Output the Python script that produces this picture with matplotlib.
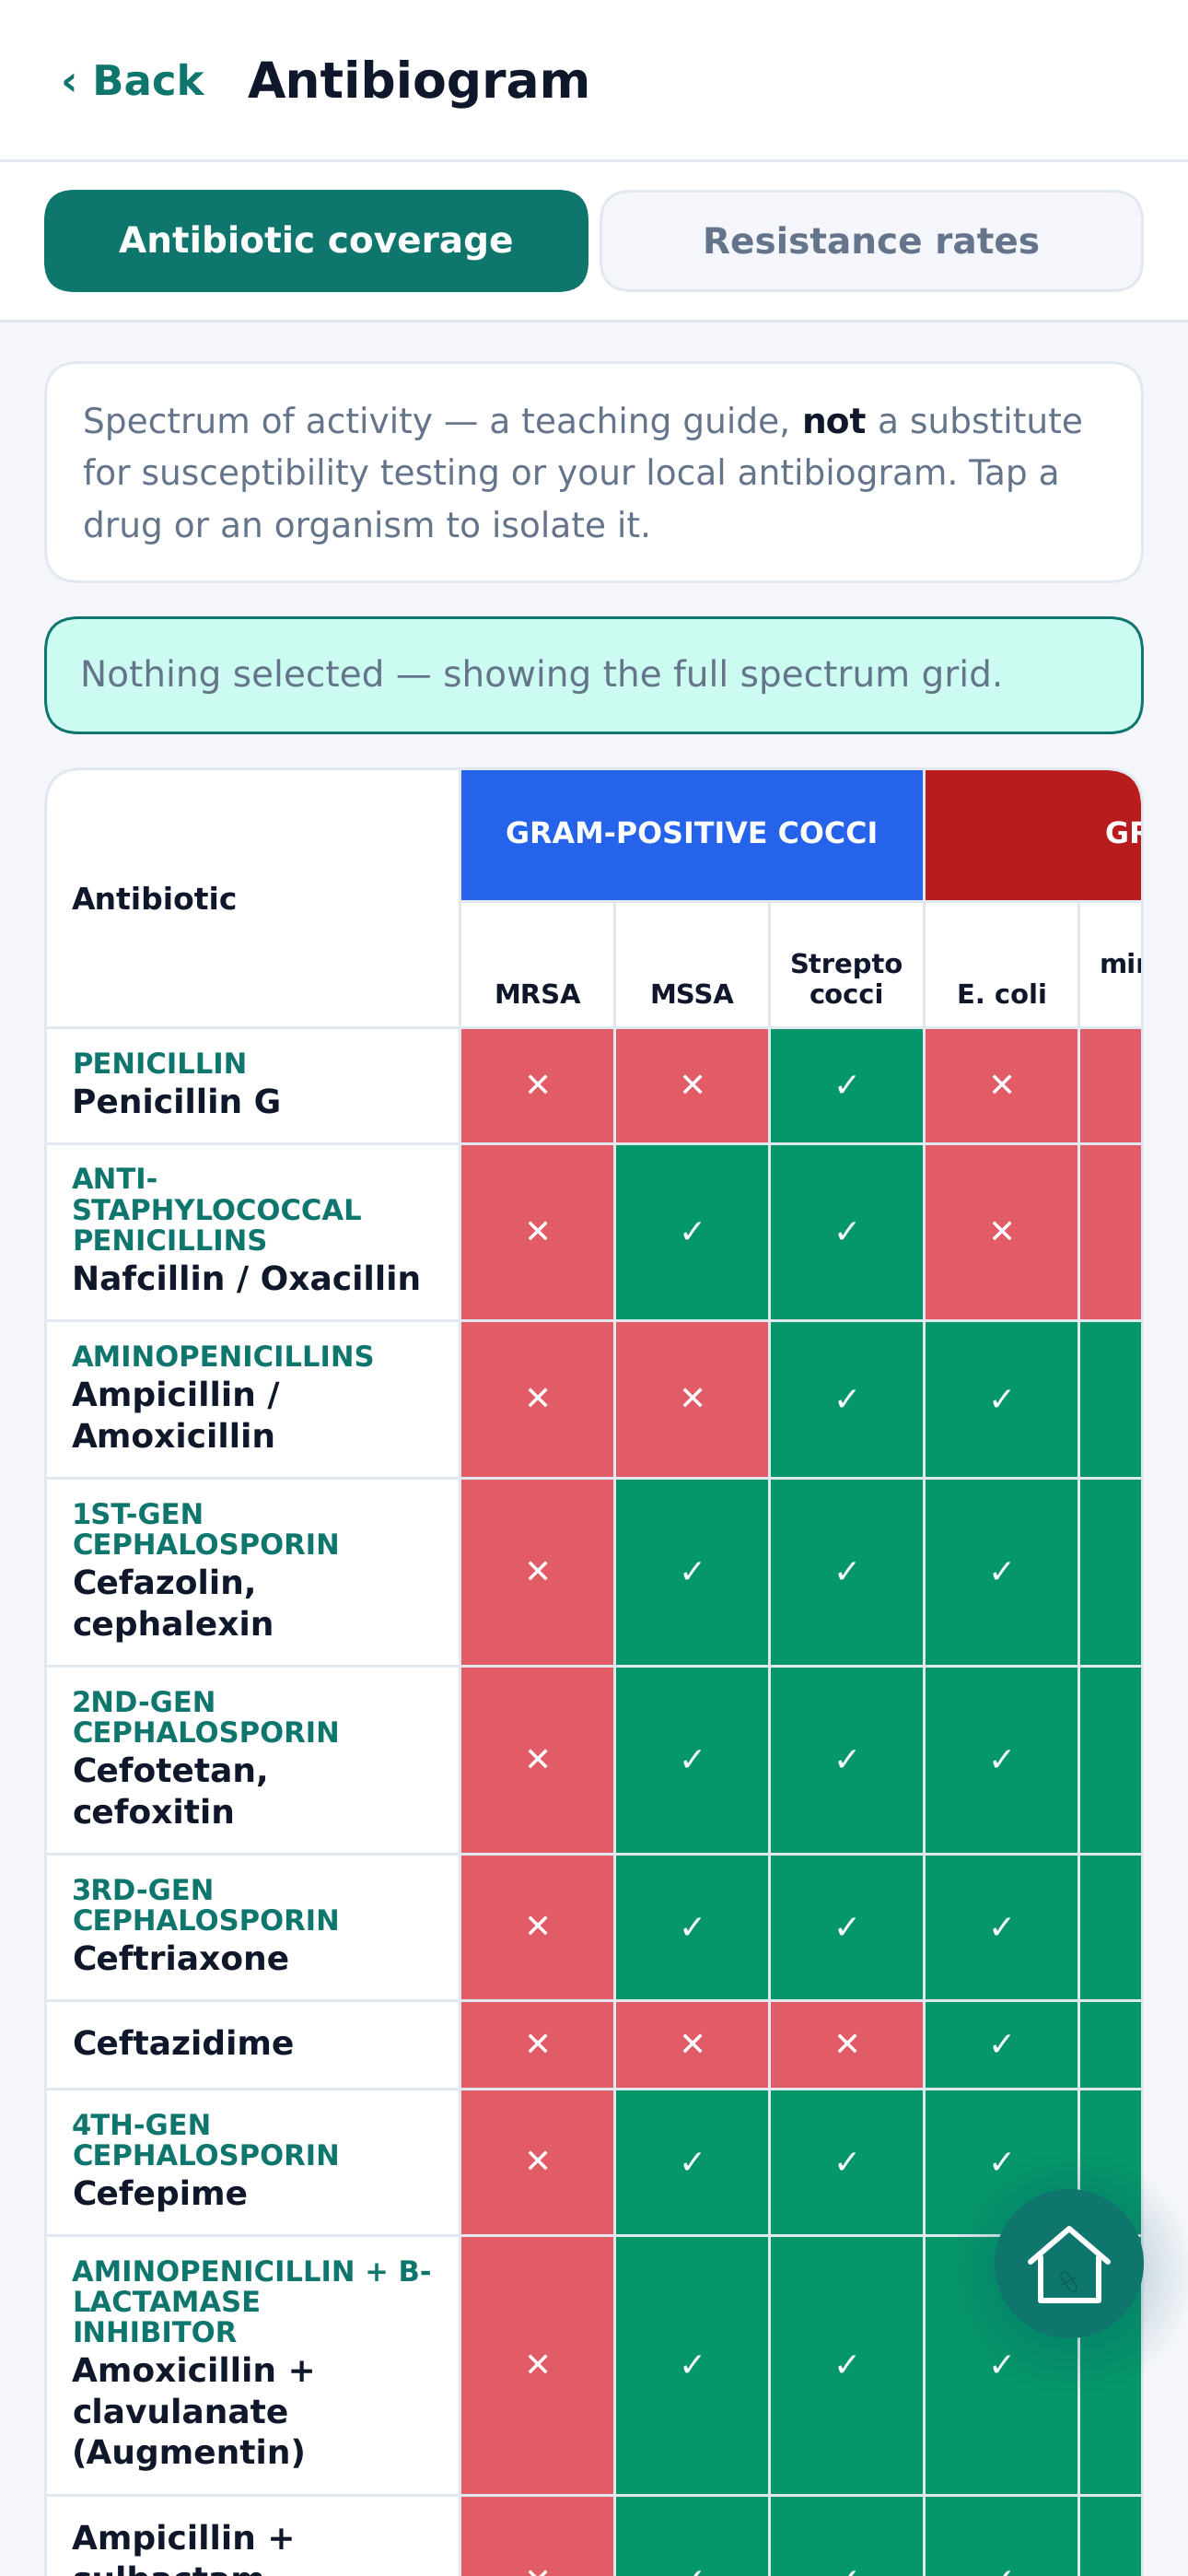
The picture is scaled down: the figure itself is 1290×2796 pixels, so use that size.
import matplotlib
matplotlib.use("Agg")
import matplotlib.pyplot as plt
from matplotlib.patches import FancyBboxPatch, Rectangle, Circle
from matplotlib.transforms import Bbox

plt.rcParams['font.family'] = ['DejaVu Sans']
plt.rcParams['text.hinting'] = 'no_hinting'
plt.rcParams['text.hinting_factor'] = 8

# ---------- data ----------
GROUPS = ["GRAM-POSITIVE COCCI", "GRAM-NEGATIVE RODS"]
ORGANISMS = ["MRSA", "MSSA", "Strepto\ncocci", "E. coli", "mirabili\ns"]
CLASSES = ["PENICILLIN", "ANTI-\nSTAPHYLOCOCCAL\nPENICILLINS", "AMINOPENICILLINS",
           "1ST-GEN\nCEPHALOSPORIN", "2ND-GEN\nCEPHALOSPORIN", "3RD-GEN\nCEPHALOSPORIN",
           "", "4TH-GEN\nCEPHALOSPORIN", "AMINOPENICILLIN + B-\nLACTAMASE\nINHIBITOR", ""]
DRUGS = ["Penicillin G", "Nafcillin / Oxacillin", "Ampicillin /\nAmoxicillin",
         "Cefazolin,\ncephalexin", "Cefotetan,\ncefoxitin", "Ceftriaxone", "Ceftazidime",
         "Cefepime", "Amoxicillin +\nclavulanate\n(Augmentin)", "Ampicillin +\nsulbactam\n "]
MRSA = [0, 0, 0, 0, 0, 0, 0, 0, 0, 0]
MSSA = [0, 1, 0, 1, 1, 1, 0, 1, 1, 1]
STREP = [1, 1, 1, 1, 1, 1, 0, 1, 1, 1]
ECOLI = [0, 0, 1, 1, 1, 1, 1, 1, 1, 1]
MIRABILIS = [0, 0, 1, 1, 1, 1, 1, 1, 1, 1]
COVERAGE = [MRSA, MSSA, STREP, ECOLI, MIRABILIS]

# ---------- style ----------
INK = "#0f172a"; TEAL = "#0f766e"; SLATE = "#64748b"; LINE = "#e2e8f0"; BG = "#f4f6fb"
RED = "#e15c66"; GREEN = "#059669"; BLUE = "#2563eb"; DARKRED = "#b91c1c"; MINT = "#ccfbf1"
GROUP_COLORS = [BLUE, DARKRED]
W, H = 1290, 2796

def pt(px):
    return px * 0.72

fig = plt.figure(figsize=(W / 100, H / 100), dpi=100, facecolor=BG)
ax = fig.add_axes([0, 0, 1, 1])
ax.set_xlim(0, W); ax.set_ylim(H, 0); ax.axis("off")
TEXT_CLIP = Bbox([[51, 0], [1239, H]])   # text in the scrolling table stops at its inner edge

def rect(x0, y0, x1, y1, color, z=1, clip=None):
    r = Rectangle((x0, y0), x1 - x0, y1 - y0, fc=color, ec="none", lw=0, zorder=z)
    ax.add_patch(r)
    if clip is not None:
        r.set_clip_path(clip)
    return r

def rbox(x0, y0, x1, y1, r, fc, ec=None, lw=3, z=2):
    inset = lw / 2 if ec else 0
    p = FancyBboxPatch((x0 + inset, y0 + inset), x1 - x0 - 2 * inset, y1 - y0 - 2 * inset,
                       boxstyle=f"round,pad=0,rounding_size={r}", fc=fc,
                       ec=ec if ec else "none", lw=pt(lw) if ec else 0, zorder=z)
    ax.add_patch(p)
    return p

def txt(x, y, s, px, color, weight="normal", ha="left", z=5, clip=False):
    t = ax.text(x, y, s, fontsize=pt(px), color=color, fontweight=weight, ha=ha, va="baseline", zorder=z)
    if clip:
        t.set_clip_box(TEXT_CLIP)
        t.set_clip_on(True)
    return t

# ---------- header ----------
rect(0, 0, W, 173, "white")
rect(0, 173, W, 176, LINE)
txt(66, 102, "\u2039 Back", 45, TEAL, "bold")
txt(269, 105, "Antibiogram", 53.5, INK, "bold")

# ---------- tabs ----------
rect(0, 176, W, 347, "white")
rect(0, 347, W, 350, LINE)
rbox(48, 206, 639, 317, 33, TEAL)
rbox(651, 206, 1242, 317, 33, BG, LINE)
txt(343.5, 275, "Antibiotic coverage", 39, "white", "bold", ha="center")
txt(946, 275, "Resistance rates", 39, SLATE, "bold", ha="center")

# ---------- notes ----------
rbox(48, 392, 1242, 633, 36, "white", LINE)
txt(90, 470, "Spectrum of activity \u2014 a teaching guide,", 37.5, SLATE)
txt(871, 470, "not", 37.5, INK, "bold")
txt(953, 470, "a substitute", 37.5, SLATE)
txt(90, 526, "for susceptibility testing or your local antibiogram. Tap a", 37.5, SLATE)
txt(90, 583, "drug or an organism to isolate it.", 37.5, SLATE)

rbox(48, 669, 1242, 797, 36, MINT, TEAL)
txt(87, 745, "Nothing selected \u2014 showing the full spectrum grid.", 39, SLATE)

# ---------- table ----------
TX0, TX1, TY0 = 48, 1242, 833
BORDER = 3
rbox(TX0, TY0, TX1, H + 80, 42, LINE, z=2)
clip = rbox(TX0 + BORDER, TY0 + BORDER, TX1 - BORDER, H + 80, 39, "white", z=2)

LEFT_END = 498
COL_W = 168
GROUP_BOTTOM = 977
HEAD_BOTTOM = 1114
col_x = [501 + i * COL_W for i in range(len(ORGANISMS))]

rect(LEFT_END, TY0, LEFT_END + BORDER, H + 80, LINE, 3, clip)
rect(LEFT_END, GROUP_BOTTOM, TX1, GROUP_BOTTOM + BORDER, LINE, 3, clip)
rect(TX0, HEAD_BOTTOM, TX1, HEAD_BOTTOM + BORDER, LINE, 3, clip)

# group header bands
rect(col_x[0], TY0 + BORDER, col_x[3] - BORDER, GROUP_BOTTOM, GROUP_COLORS[0], 3, clip)
rect(col_x[3], TY0 + BORDER, TX1, GROUP_BOTTOM, GROUP_COLORS[1], 3, clip)
rect(col_x[3] - BORDER, TY0 + BORDER, col_x[3], GROUP_BOTTOM, LINE, 3, clip)
txt((col_x[0] + col_x[3] - BORDER) / 2, 916, GROUPS[0], 31.8, "white", "bold", ha="center", clip=True)
txt(1200, 916, GROUPS[1], 31.8, "white", "bold", clip=True)

txt(78, 987, "Antibiotic", 33, INK, "bold")

# organism sub headers
for i, name in enumerate(ORGANISMS):
    x = col_x[i]
    rect(x + COL_W - BORDER, GROUP_BOTTOM, x + COL_W, HEAD_BOTTOM, LINE, 3, clip)
    lines = name.split("\n")
    cx = x + (COL_W - BORDER) / 2
    if len(lines) == 1:
        txt(cx, 1089, lines[0], 29, INK, "bold", ha="center", clip=True)
    else:
        txt(cx, 1056, lines[0], 29, INK, "bold", ha="center", clip=True)
        txt(cx, 1089, lines[1], 29, INK, "bold", ha="center", clip=True)

# rows: height follows from the number of wrapped lines
y = HEAD_BOTTOM + BORDER
for r, (cls, drug) in enumerate(zip(CLASSES, DRUGS)):
    g = len(cls.split("\n")) if cls else 0
    n = len(drug.split("\n"))
    gh = (30 + 33 * (g - 1)) if g else 0
    stride = 51 + 45 * n + gh
    cell_bottom = y + stride - BORDER
    rect(TX0 + BORDER, cell_bottom, TX1, cell_bottom + BORDER, LINE, 3, clip)
    if g:
        for j, line in enumerate(cls.split("\n")):
            txt(78, y + 24 + 13 + 33 * j + 10.4, line, 30.7, TEAL, "bold")
    name_shift = 1.5 if g else -2.5
    for j, line in enumerate(drug.split("\n")):
        txt(78, y + 24 + gh + 22.5 + 45 * j + 12.5 + name_shift, line, 36, INK, "bold")
    cy = (y + cell_bottom) / 2
    for c, series in enumerate(COVERAGE):
        x = col_x[c]
        ok = series[r]
        rect(x, y, x + COL_W - BORDER, cell_bottom, GREEN if ok else RED, 3, clip)
        rect(x + COL_W - BORDER, y, x + COL_W, cell_bottom, LINE, 3, clip)
        txt(x + (COL_W - BORDER) / 2, cy + 12, "\u2713" if ok else "\u2715", 36, "white", ha="center", z=4, clip=True)
    y += stride

# ---------- floating home button ----------
FX, FY, FR = 1161, 2457, 81
for k in range(12):
    ax.add_patch(Circle((FX + 2, FY + 10), FR + 52 - k * 4.5, fc=TEAL, ec="none", alpha=0.011, zorder=6))
ax.add_patch(Circle((FX, FY), FR, fc=TEAL, ec="none", zorder=7))
ICON = dict(color="white", lw=pt(6), solid_capstyle="round", solid_joinstyle="round", zorder=8)
ax.plot([1119, 1161, 1203], [2455, 2419, 2455], **ICON)
ax.plot([1130, 1130, 1193, 1193], [2450, 2497, 2497, 2450], **ICON)
ax.plot([1156, 1165], [2470, 2483], color="#0b5f55", lw=pt(10), solid_capstyle="round", zorder=8)
ax.plot([1156, 1165], [2470, 2483], color=TEAL, lw=pt(7), solid_capstyle="round", zorder=9)
ax.plot([1153, 1168], [2480, 2472], color="#0b5f55", lw=pt(1.5), zorder=9)

fig.savefig("out.png", dpi=100, facecolor=BG)
